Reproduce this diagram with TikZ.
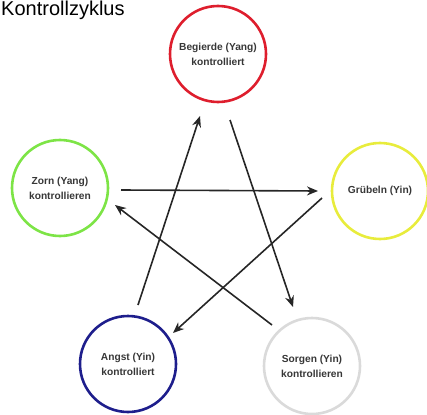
\documentclass[tikz,border=0pt]{standalone}
\usepackage{fontspec}
\setmainfont{Liberation Sans}
\usetikzlibrary{arrows.meta,calc}

\definecolor{ringred}{RGB}{222,30,45}
\definecolor{ringgreen}{RGB}{125,228,70}
\definecolor{ringyellow}{RGB}{232,236,60}
\definecolor{ringblue}{RGB}{30,30,140}
\definecolor{ringgrey}{RGB}{218,218,218}
\definecolor{inktext}{RGB}{55,55,55}

\tikzset{
  emotion/.style={circle, draw=#1, line width=2.6pt, minimum size=96pt,
    inner sep=0pt, align=center, text=inktext,
    font=\bfseries\fontsize{10.2}{15}\selectfont},
  ctrl/.style={line width=1.6pt, draw=black!85,
    -{Stealth[length=11pt,width=9pt]}},
}

\begin{document}
\begin{tikzpicture}[x=1pt, y=-1pt]
  \useasboundingbox (0,0) rectangle (427,414);

  % title
  \node[anchor=base west, inner sep=0pt, font=\fontsize{20}{24}\selectfont]
    (title) at (1,15.5) {Kontrollzyklus};

  % the five emotions
  \node[emotion=ringred]    (B) at (218,54)  {Begierde (Yang)\\kontrolliert};
  \node[emotion=ringgreen]  (Z) at (60,188)  {Zorn (Yang)\\kontrollieren};
  \node[emotion=ringyellow] (G) at (380,191) {Grübeln (Yin)};
  \node[emotion=ringblue]   (A) at (128,364) {Angst (Yin)\\kontrolliert};
  \node[emotion=ringgrey]   (S) at (312,366) {Sorgen (Yin)\\kontrollieren};

  % control cycle (star)
  \draw[ctrl] ($(Z)+(61,2)$)   -- ($(G)+(-62,0)$);
  \draw[ctrl] ($(G)+(-58,7)$)  -- ($(A)+(45,-31)$);
  \draw[ctrl] ($(A)+(10,-59)$) -- ($(B)+(-18,62)$);
  \draw[ctrl] ($(B)+(12,66)$)  -- ($(S)+(-19,-59)$);
  \draw[ctrl] ($(S)+(-40,-41)$) -- ($(Z)+(55,17)$);
\end{tikzpicture}
\end{document}
